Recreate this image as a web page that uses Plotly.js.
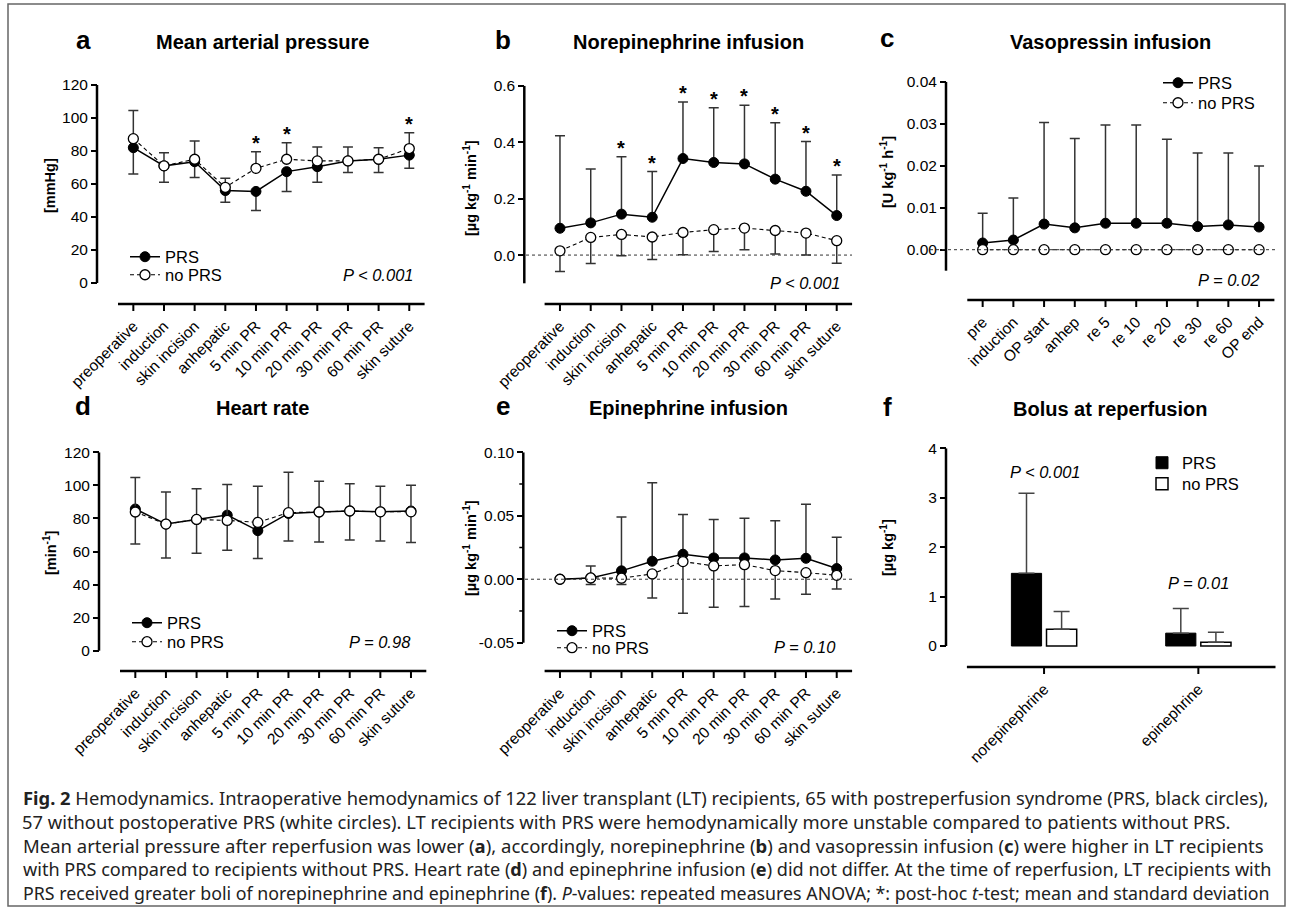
<!DOCTYPE html>
<html><head><meta charset="utf-8">
<script src="https://cdn.plot.ly/plotly-3.0.1.min.js"></script>
<style>html,body{margin:0;padding:0;background:#fff}</style>
</head><body><div id="chart" style="width:1292px;height:911px"></div>
<script>
// ---------------- DATA ----------------
const timepoints = ['preoperative','induction','skin incision','anhepatic','5 min PR','10 min PR','20 min PR','30 min PR','60 min PR','skin suture'];
const vasoTimepoints = ['pre','induction','OP start','anhep','re 5','re 10','re 20','re 30','re 60','OP end'];
const bolusCats = ['norepinephrine','epinephrine'];

// a: mean arterial pressure [mmHg]
const mapPRS      = [82, 71, 73.5, 56, 55.5, 67.5, 70.5, 74, 75, 77.5];
const mapPRS_sd   = [16, 10, 9.5, 7, 11.5, 12, 9.5, 7, 8, 8];
const mapNo       = [87.5, 71, 75, 58, 69.5, 75, 74, 74, 75, 81.5];
const mapNo_sd    = [17, 8, 11, 5.5, 10, 10, 8.5, 8.5, 7, 9.5];
const mapStars    = [0,0,0,0,1,1,0,0,0,1];

// b: norepinephrine infusion [µg kg-1 min-1]
const nePRS    = [0.095, 0.114, 0.145, 0.134, 0.342, 0.328, 0.323, 0.269, 0.226, 0.140];
const nePRS_sd = [0.328, 0.191, 0.203, 0.162, 0.200, 0.194, 0.208, 0.200, 0.176, 0.144];
const neNo     = [0.015, 0.0625, 0.073, 0.064, 0.080, 0.090, 0.0955, 0.087, 0.078, 0.051];
const neNo_sd  = [0.073, 0.092, 0.075, 0.080, 0.079, 0.077, 0.077, 0.083, 0.078, 0.080];
const neStars  = [0,0,1,1,1,1,1,1,1,1];

// c: vasopressin infusion [U kg-1 h-1]
const vpPRS    = [0.0016, 0.0023, 0.0061, 0.0052, 0.0063, 0.0063, 0.0063, 0.0055, 0.0059, 0.0054];
const vpPRS_sd = [0.0071, 0.0100, 0.0242, 0.0213, 0.0234, 0.0234, 0.0200, 0.0175, 0.0171, 0.0145];
const vpNo     = [0, 0, 0, 0, 0, 0, 0, 0, 0, 0];

// d: heart rate [min-1]
const hrPRS    = [85.7, 76.6, 79.4, 82, 72.6, 83, 83.9, 84.5, 84, 84.5];
const hrPRS_sd = [21.2, 20.6, 20.4, 21.3, 16.8, 16.7, 18.2, 17.5, 17.7, 19];
const hrNo     = [83.9, 76.6, 79.4, 78.8, 77.6, 83.5, 83.9, 84.5, 84, 84];
const hrNo_sd  = [20.8, 19.4, 18.6, 21.7, 21.9, 24.5, 18.6, 16.5, 15.5, 16];

// e: epinephrine infusion [µg kg-1 min-1]
const epPRS    = [0, 0.001, 0.0066, 0.0142, 0.0197, 0.0168, 0.0168, 0.0152, 0.0165, 0.0084];
const epPRS_sd = [0, 0.0095, 0.0424, 0.0618, 0.0313, 0.0302, 0.0312, 0.0308, 0.0425, 0.0246];
const epNo     = [0, 0.001, 0.0008, 0.0042, 0.0139, 0.0105, 0.0115, 0.0068, 0.0052, 0.0031];
const epNo_sd  = [0, 0.0052, 0.005, 0.0189, 0.0407, 0.0325, 0.033, 0.0223, 0.017, 0.0107];
const epTickVals = [-0.05, 0, 0.05, 0.10];
const epTickText = ['-0.05', '0.00', '0.05', '0.10'];
const epMinorTicks = [-0.025, 0.025, 0.075];

// f: bolus at reperfusion [µg kg-1]
const bolusPRS    = [1.47, 0.26];
const bolusPRS_sd = [1.62, 0.50];
const bolusNo     = [0.34, 0.075];
const bolusNo_sd  = [0.36, 0.205];

// ---------------- LAYOUT HELPERS ----------------
const W = 1292, H = 911;
const fx = p => p / W, fy = p => 1 - p / H;
const FONT = "'Liberation Sans', Arial, Helvetica, sans-serif";
const zeros = a => a.map(() => 0);
const shapes = [];

const axisBase = {
  showgrid: false, zeroline: false, linecolor: '#000', linewidth: 2.5,
  ticks: 'outside', ticklen: 6, tickwidth: 2, tickcolor: '#000',
  tickfont: {family: FONT, size: 15.5, color: '#000'}, fixedrange: true
};
function xAx(id, x0, x1, ya, pLine, cats) {
  shapes.push({type: 'line', xref: 'paper', yref: 'paper', x0: fx(x0), x1: fx(x1), y0: fy(pLine), y1: fy(pLine),
    line: {color: '#000', width: 2.5}});
  cats.forEach(c => shapes.push({type: 'line', xref: id, yref: 'paper', x0: c, x1: c, y0: fy(pLine), y1: fy(pLine + 7),
    line: {color: '#000', width: 2}}));
  return Object.assign({}, axisBase, {type: 'category', showline: false, domain: [fx(x0), fx(x1)], anchor: ya,
    range: [-0.5, cats.length - 0.5], tickangle: -45, tickcolor: 'rgba(0,0,0,0)'});
}
function yAx(id, xpx, vTop, pTop, vBot, pBot, pLine, extra) {
  const scale = (pBot - pTop) / (vTop - vBot);
  const rBot = vBot - (pLine - pBot) / scale;
  shapes.push({type: 'line', xref: 'paper', yref: id, x0: fx(xpx), x1: fx(xpx), y0: vBot, y1: vTop,
    line: {color: '#000', width: 2.5}});
  return Object.assign({}, axisBase, {showline: false, domain: [fy(pLine), fy(pTop)], anchor: 'free',
    position: fx(xpx), range: [rBot, vTop]}, extra || {});
}

const errStyle = {type: 'data', symmetric: false, color: '#333', thickness: 1.5, width: 5};
function prsTrace(x, y, up, down, xa, ya, leg) {
  return {type: 'scatter', mode: 'lines+markers', x: x, y: y, xaxis: xa, yaxis: ya,
    name: 'PRS', legend: leg, showlegend: true,
    line: {color: '#000', width: 1.5},
    marker: {symbol: 'circle', size: 10, color: '#000', line: {color: '#000', width: 1}},
    error_y: Object.assign({}, errStyle, {array: up, arrayminus: down}), cliponaxis: false};
}
function noTrace(x, y, up, down, xa, ya, leg) {
  const t = {type: 'scatter', mode: 'lines+markers', x: x, y: y, xaxis: xa, yaxis: ya,
    name: 'no PRS', legend: leg, showlegend: true,
    line: {color: '#000', width: 1.1, dash: '4px,3px'},
    marker: {symbol: 'circle', size: 10, color: '#fff', line: {color: '#000', width: 1.3}}, cliponaxis: false};
  if (up) t.error_y = Object.assign({}, errStyle, {array: up, arrayminus: down});
  return t;
}

const data = [
  prsTrace(timepoints, mapPRS, zeros(mapPRS), mapPRS_sd, 'x', 'y', 'legend'),
  noTrace(timepoints, mapNo, mapNo_sd, zeros(mapNo), 'x', 'y', 'legend2'),
  prsTrace(timepoints, nePRS, nePRS_sd, zeros(nePRS), 'x2', 'y2', 'legend11'),
  noTrace(timepoints, neNo, zeros(neNo), neNo_sd, 'x2', 'y2', 'legend12'),
  prsTrace(vasoTimepoints, vpPRS, vpPRS_sd, zeros(vpPRS), 'x3', 'y3', 'legend3'),
  noTrace(vasoTimepoints, vpNo, null, null, 'x3', 'y3', 'legend4'),
  prsTrace(timepoints, hrPRS, zeros(hrPRS), hrPRS_sd, 'x4', 'y4', 'legend5'),
  noTrace(timepoints, hrNo, hrNo_sd, zeros(hrNo), 'x4', 'y4', 'legend6'),
  prsTrace(timepoints, epPRS, epPRS_sd, zeros(epPRS), 'x5', 'y5', 'legend7'),
  noTrace(timepoints, epNo, zeros(epNo), epNo_sd, 'x5', 'y5', 'legend8'),
  {type: 'bar', x: bolusCats, y: bolusPRS, xaxis: 'x6', yaxis: 'y6', name: 'PRS', legend: 'legend9',
   marker: {color: '#000', line: {color: '#000', width: 1}},
   error_y: {type: 'data', symmetric: false, array: bolusPRS_sd, arrayminus: zeros(bolusPRS), color: '#444', thickness: 1.5, width: 8}},
  {type: 'bar', x: bolusCats, y: bolusNo, xaxis: 'x6', yaxis: 'y6', name: 'no PRS', legend: 'legend10',
   marker: {color: '#fff', line: {color: '#000', width: 1.5}},
   error_y: {type: 'data', symmetric: false, array: bolusNo_sd, arrayminus: zeros(bolusNo), color: '#444', thickness: 1.5, width: 8}}
];

const annotations = [];
function txt(x, y, text, opts) {
  annotations.push(Object.assign({xref: 'paper', yref: 'paper', x: fx(x), y: fy(y), text: text,
    showarrow: false, xanchor: 'center', yanchor: 'middle',
    font: {family: FONT, size: 16.5, color: '#000'}}, opts || {}));
}
const titleFont = {family: FONT, size: 20, color: '#000'};
const letterFont = {family: FONT, size: 26, color: '#000'};
[[262, 42, 'Mean arterial pressure'], [688, 42, 'Norepinephrine infusion'], [1110, 42, 'Vasopressin infusion'],
 [262, 408, 'Heart rate'], [688, 408, 'Epinephrine infusion'], [1110, 409, 'Bolus at reperfusion']]
  .forEach(t => txt(t[0], t[1], '<b>' + t[2] + '</b>', {font: titleFont}));
[[83, 40, 'a'], [503, 40, 'b'], [887, 38, 'c'], [83, 406, 'd'], [503, 406, 'e'], [887, 407, 'f']]
  .forEach(t => txt(t[0], t[1], '<b>' + t[2] + '</b>', {font: letterFont}));
const ytFont = {family: FONT, size: 14.5, color: '#000'};
[[50, 186, '[mmHg]'], [470, 188, '[µg kg<sup>-1</sup> min<sup>-1</sup>]'], [887, 172, '[U kg<sup>-1</sup> h<sup>-1</sup>]'],
 [50, 553, '[min<sup>-1</sup>]'], [470, 548, '[µg kg<sup>-1</sup> min<sup>-1</sup>]'], [887, 548, '[µg kg<sup>-1</sup>]']]
  .forEach(t => txt(t[0], t[1], '<b>' + t[2] + '</b>', {font: ytFont, textangle: -90}));
const pFont = {family: FONT, size: 16.5, color: '#000'};
[[378.5, 275, '<i>P &lt; 0.001</i>'], [805.5, 283, '<i>P &lt; 0.001</i>'], [1228, 280, '<i>P = 0.02</i>'],
 [380, 642, '<i>P = 0.98</i>'], [805, 647, '<i>P = 0.10</i>'],
 [1045, 472, '<i>P &lt; 0.001</i>'], [1198, 583, '<i>P = 0.01</i>']]
  .forEach(t => txt(t[0], t[1], t[2], {font: pFont}));
function stars(flags, cats, tops, xa, ya) {
  flags.forEach((f, i) => { if (f) annotations.push({xref: xa, yref: ya, x: cats[i], y: tops[i], text: '<b>*</b>',
    showarrow: false, yanchor: 'bottom', yshift: -4, font: {family: FONT, size: 20, color: '#000'}}); });
}
stars(mapStars, timepoints, mapNo.map((v, i) => Math.max(v + mapNo_sd[i], mapPRS[i])), 'x', 'y');
stars(neStars, timepoints, nePRS.map((v, i) => v + nePRS_sd[i]), 'x2', 'y2');

const caption = [
  '<b>Fig. 2</b> Hemodynamics. Intraoperative hemodynamics of 122 liver transplant (LT) recipients, 65 with postreperfusion syndrome (PRS, black circles),',
  '57 without postoperative PRS (white circles). LT recipients with PRS were hemodynamically more unstable compared to patients without PRS.',
  'Mean arterial pressure after reperfusion was lower (<b>a</b>), accordingly, norepinephrine (<b>b</b>) and vasopressin infusion (<b>c</b>) were higher in LT recipients',
  'with PRS compared to recipients without PRS. Heart rate (<b>d</b>) and epinephrine infusion (<b>e</b>) did not differ. At the time of reperfusion, LT recipients with',
  'PRS received greater boli of norepinephrine and epinephrine (<b>f</b>). <i>P</i>-values: repeated measures ANOVA; *: post-hoc <i>t</i>-test; mean and standard deviation'
];
const capSizes = [18.35, 18.35, 18.5, 18.1, 17.8];
const capCenters = [646, 626, 643.5, 647, 646];
caption.forEach((c, i) => txt(capCenters[i], 797 + 24 * i, c, {font: {family: "'Noto Sans', 'Open Sans', sans-serif", size: capSizes[i], color: '#222'}}));

// dotted zero reference lines
function zeroLine(x0, x1, ya) {
  shapes.push({type: 'line', xref: 'paper', yref: ya, x0: fx(x0), x1: fx(x1), y0: 0, y1: 0,
    line: {color: '#333', width: 1, dash: 'dot'}});
}
zeroLine(526, 852, 'y2'); zeroLine(930, 1276, 'y3'); zeroLine(525, 852, 'y5');
// minor ticks on panel e
epMinorTicks.forEach(v => shapes.push({type: 'line', xref: 'paper', yref: 'y5', x0: fx(523.3 - 4), x1: fx(523.3), y0: v, y1: v,
  line: {color: '#000', width: 1.5}}));
// figure frame
shapes.push({type: 'rect', xref: 'paper', yref: 'paper', x0: fx(8), x1: fx(1285), y0: fy(906), y1: fy(4),
  fillcolor: 'rgba(0,0,0,0)', line: {color: '#666', width: 1.5}});

function leg(xpx, ypx, show) {
  return {x: fx(xpx), y: fy(ypx), xref: 'paper', yref: 'paper', xanchor: 'left', yanchor: 'middle',
    bgcolor: 'rgba(0,0,0,0)', borderwidth: 0, itemwidth: 30, font: {family: FONT, size: 16.5, color: '#000'},
    itemclick: false, itemdoubleclick: false, visible: show !== false};
}

const layout = {
  width: W, height: H, margin: {l: 0, r: 0, t: 0, b: 0}, paper_bgcolor: '#fff', plot_bgcolor: 'rgba(0,0,0,0)',
  font: {family: FONT, color: '#000'}, showlegend: true,
  barmode: 'group', bargap: 0.545, bargroupgap: 0.14,
  xaxis:  xAx('x', 118, 424.6, 'y', 304, timepoints),
  yaxis:  yAx('y', 97, 120, 85, 0, 283, 304, {tickvals: [0, 20, 40, 60, 80, 100, 120]}),
  xaxis2: xAx('x2', 544.6, 852.1, 'y2', 304, timepoints),
  yaxis2: yAx('y2', 524.3, 0.6, 85.7, -0.1, 283.3, 304, {tickvals: [0, 0.2, 0.4, 0.6], tickformat: '.1f'}),
  xaxis3: xAx('x3', 967.3, 1274.4, 'y3', 300, vasoTimepoints),
  yaxis3: yAx('y3', 946, 0.04, 81.7, -0.005, 270.7, 300, {tickvals: [0, 0.01, 0.02, 0.03, 0.04], tickformat: '.2f'}),
  xaxis4: xAx('x4', 120, 426.3, 'y4', 671, timepoints),
  yaxis4: yAx('y4', 99, 120, 452.3, 0, 650.7, 671, {tickvals: [0, 20, 40, 60, 80, 100, 120]}),
  xaxis5: xAx('x5', 544.6, 852.1, 'y5', 671, timepoints),
  yaxis5: yAx('y5', 523.3, 0.10, 452.3, -0.05, 642.7, 671, {tickvals: epTickVals, ticktext: epTickText}),
  xaxis6: xAx('x6', 966.9, 1275.5, 'y6', 667, bolusCats),
  yaxis6: yAx('y6', 946, 4, 448.3, 0, 646, 667, {tickvals: [0, 1, 2, 3, 4]}),
  legend: leg(125, 257), legend2: leg(125, 275),
  legend3: leg(1158, 83), legend4: leg(1158, 103),
  legend5: leg(127, 623), legend6: leg(127, 642),
  legend7: leg(552, 631), legend8: leg(552, 648),
  legend9: leg(1142, 463), legend10: leg(1142, 484),
  legend11: leg(600, 20, false), legend12: leg(600, 20, false),
  annotations: annotations, shapes: shapes
};

Plotly.newPlot('chart', data, layout, {staticPlot: true, displayModeBar: false});
</script></body></html>
